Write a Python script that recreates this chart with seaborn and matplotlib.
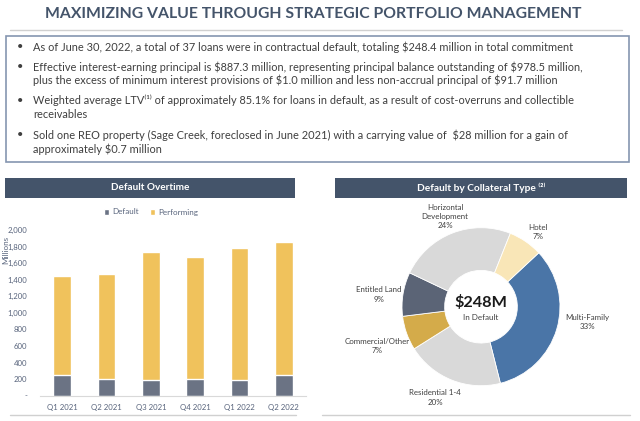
import matplotlib
matplotlib.use("Agg")
import matplotlib.pyplot as plt
import seaborn as sns
import pandas as pd
from matplotlib.patches import Rectangle, Patch
from matplotlib.lines import Line2D

# ---------------- data ----------------
title = "MAXIMIZING VALUE THROUGH STRATEGIC PORTFOLIO MANAGEMENT"
bullets = [
    ["As of June 30, 2022, a total of 37 loans were in contractual default, totaling $248.4 million in total commitment"],
    ["Effective interest-earning principal is $887.3 million, representing principal balance outstanding of $978.5 million,",
     "plus the excess of minimum interest provisions of $1.0 million and less non-accrual principal of $91.7 million"],
    ["Weighted average LTV\u207d\u00b9\u207e of approximately 85.1% for loans in default, as a result of cost-overruns and collectible",
     "receivables"],
    ["Sold one REO property (Sage Creek, foreclosed in June 2021) with a carrying value of  $28 million for a gain of",
     "approximately $0.7 million"],
]
quarters = ["Q1 2021", "Q2 2021", "Q3 2021", "Q4 2021", "Q1 2022", "Q2 2022"]
default_vals = [250, 205, 195, 197, 192, 248]
performing_vals = [1200, 1265, 1535, 1483, 1588, 1602]
y_ticks = [0, 200, 400, 600, 800, 1000, 1200, 1400, 1600, 1800, 2000]
y_tick_labels = ["-", "200", "400", "600", "800", "1,000", "1,200", "1,400", "1,600", "1,800", "2,000"]

collateral_types = ["Multi-Family", "Residential 1-4", "Commercial/Other", "Entitled Land",
                    "Horizontal\nDevelopment", "Hotel"]
collateral_pct = [33, 20, 7, 9, 24, 7]
total_default = "$248M"

# ---------------- style ----------------
sns.set_theme(style="white")
plt.rcParams["font.family"] = ["Lato", "DejaVu Sans"]
plt.rcParams["text.parse_math"] = False

W, H = 640, 421
fig = plt.figure(figsize=(W / 100, H / 100), dpi=100)
fig.patch.set_facecolor("white")

def fx(px):
    return px / W

def fy(py):
    return 1 - py / H

SLATE = "#44546a"
TEXT = "#3f3f3f"
DEF_C = "#6b7384"
PERF_C = "#f0c25c"
AXT = "#58647c"

renderer = fig.canvas.get_renderer()

def fit(t, width_px):
    bb = t.get_window_extent(renderer)
    t.set_fontsize(t.get_fontsize() * width_px / bb.width)

# title
t = fig.text(fx(313.5), fy(14), title, ha="center", va="center", fontsize=13,
             fontweight="bold", color=SLATE)
fit(t, 537)
fig.add_artist(Line2D([fx(10), fx(622)], [fy(30), fy(30)], color="#d0d0d0", lw=1))

# bullet box
fig.add_artist(Rectangle((fx(6), fy(162)), fx(629) - fx(6), fy(36) - fy(162),
                         fill=False, edgecolor="#8596b0", lw=1.2))
line_y = [[47], [67, 80], [100, 115], [135, 149]]
probe = fig.text(fx(33), fy(47), bullets[0][0], ha="left", va="center", fontsize=8, color=TEXT)
fit(probe, 539)
bfs = probe.get_fontsize()
probe.remove()
for lines, ys in zip(bullets, line_y):
    fig.text(fx(20), fy(ys[0]), "\u2022", ha="center", va="center", fontsize=bfs, color=TEXT)
    for ln, yy in zip(lines, ys):
        fig.text(fx(33), fy(yy), ln, ha="left", va="center", fontsize=bfs, color=TEXT)

# section headers
for x0, x1, lab, wpx in [(5, 295, "Default Overtime", 79),
                         (335, 627, "Default by Collateral Type \u207d\u00b2\u207e", 129)]:
    fig.add_artist(Rectangle((fx(x0), fy(198)), fx(x1) - fx(x0), fy(178) - fy(198),
                             facecolor=SLATE, edgecolor="none"))
    ht = fig.text(fx((x0 + x1) / 2), fy(188), lab, ha="center", va="center", fontsize=8,
                  fontweight="bold", color="white")
    fit(ht, wpx)

# bottom divider lines
fig.add_artist(Line2D([fx(10), fx(296)], [fy(415), fy(415)], color="#d0d0d0", lw=1))
fig.add_artist(Line2D([fx(322), fx(630)], [fy(415), fy(415)], color="#d0d0d0", lw=1))

# ---------------- bar chart ----------------
df = pd.DataFrame({"quarter": quarters, "Default": default_vals, "Performing": performing_vals})
df["total"] = df["Default"] + df["Performing"]

ax = fig.add_axes([fx(40), fy(395.7), fx(306) - fx(40), fy(230) - fy(395.7)])
sns.barplot(data=df, x="quarter", y="total", color=PERF_C, width=0.4, saturation=1, ax=ax)
sns.barplot(data=df, x="quarter", y="Default", color=DEF_C, width=0.4, saturation=1, ax=ax)
ax.set_ylim(0, 2000)
ax.set_xlim(-0.5, len(quarters) - 0.5)
ax.set_yticks(y_ticks)
ax.set_yticklabels(y_tick_labels)
ax.set_xlabel("")
ax.set_ylabel("")
ax.tick_params(axis="y", length=0, labelsize=5.6, labelcolor=AXT, pad=9)
ax.tick_params(axis="x", length=0, labelsize=5.6, labelcolor=AXT, pad=6)
for s in ["top", "right", "left"]:
    ax.spines[s].set_visible(False)
ax.spines["bottom"].set_color("#d9d9d9")
ax.spines["bottom"].set_linewidth(0.8)
ax.set_facecolor("none")
fig.text(fx(6), fy(250), "Millions", rotation=90, ha="center", va="center",
         fontsize=5.8, color=AXT)
handles = [Patch(facecolor=DEF_C, label="Default"), Patch(facecolor=PERF_C, label="Performing")]
fig.legend(handles=handles, loc="center", bbox_to_anchor=(fx(151), fy(212)), ncol=2,
           frameon=False, fontsize=5.8, handlelength=0.7, handleheight=0.7,
           handletextpad=0.4, columnspacing=1.3, labelcolor=AXT)

# ---------------- donut ----------------
cx, cy, r = 481, 306.7, 79
pax = fig.add_axes([fx(cx - r), fy(cy + r), fx(2 * r), (2 * r) / H])
pie_colors = ["#4a75a7", "#d9d9d9", "#d4ab4a", "#5b6476", "#d9d9d9", "#f9e6b7"]
pax.pie(collateral_pct, colors=pie_colors, startangle=43, counterclock=False, radius=1,
        wedgeprops=dict(width=0.54, edgecolor="white", linewidth=0.6))
pax.set_xlim(-1, 1)
pax.set_ylim(-1, 1)
pax.axis("off")

ct = pax.text(0, 0.05, total_default, ha="center", va="center", fontsize=14,
              fontweight="bold", color="#1a1a1a")
fit(ct, 53)
pax.text(0, -0.14, "In Default", ha="center", va="center", fontsize=5.8, color=TEXT)

label_pos = [(587, 322), (435, 397.5), (377, 346), (379, 294.5), (445, 216.5), (538, 232)]
for name, pct, (lx, ly) in zip(collateral_types, collateral_pct, label_pos):
    fig.text(fx(lx), fy(ly), f"{name}\n{pct}%", ha="center", va="center",
             fontsize=5.7, color=TEXT, linespacing=1.4)

fig.savefig("out.png", dpi=100, facecolor="white")
